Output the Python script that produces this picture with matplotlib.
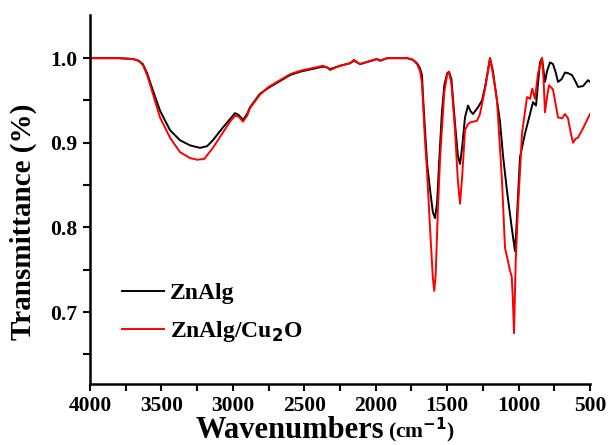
import matplotlib
matplotlib.use("Agg")
import matplotlib.pyplot as plt
from matplotlib.ticker import MultipleLocator, FixedLocator

plt.rcParams['font.family'] = ['Liberation Serif', 'DejaVu Serif']
plt.rcParams['font.weight'] = 'bold'

wn_black = [4000, 3800, 3700, 3660, 3630, 3600, 3560, 3510, 3440, 3370, 3300, 3230, 3180, 3140,
            3070, 3020, 2985, 2960, 2929, 2900, 2880, 2810, 2750, 2690, 2600, 2530, 2450, 2369,
            2340, 2320, 2250, 2180, 2152, 2110, 2050, 1991, 1970, 1920, 1780, 1739, 1711, 1690,
            1676, 1669, 1655, 1640, 1620, 1600, 1585, 1570, 1555, 1537, 1520, 1500, 1487, 1470,
            1445, 1425, 1410, 1395, 1375, 1354, 1335, 1319, 1284, 1256, 1230, 1200, 1180, 1151,
            1130, 1109, 1081, 1048, 1040, 1025, 1015, 1000, 990, 955, 920, 899, 878, 864, 850,
            836, 825, 815, 800, 780, 759, 740, 724, 700, 675, 650, 626, 600, 584, 549, 514, 500]
t_black = [1.000, 1.000, 0.999, 0.997, 0.993, 0.982, 0.962, 0.938, 0.915, 0.903, 0.897, 0.894,
           0.896, 0.903, 0.918, 0.928, 0.935, 0.933, 0.927, 0.934, 0.942, 0.958, 0.965, 0.971,
           0.980, 0.984, 0.987, 0.990, 0.989, 0.987, 0.991, 0.994, 0.997, 0.993, 0.996, 0.999,
           0.997, 1.000, 1.000, 0.998, 0.994, 0.988, 0.980, 0.955, 0.915, 0.875, 0.845, 0.818,
           0.811, 0.830, 0.880, 0.935, 0.968, 0.982, 0.984, 0.975, 0.923, 0.885, 0.875, 0.895,
           0.930, 0.944, 0.937, 0.934, 0.942, 0.950, 0.970, 1.000, 0.985, 0.950, 0.925, 0.885,
           0.843, 0.800, 0.790, 0.772, 0.800, 0.850, 0.883, 0.911, 0.934, 0.948, 0.944, 0.970,
           0.995, 1.000, 0.985, 0.972, 0.985, 0.995, 0.993, 0.983, 0.972, 0.975, 0.983, 0.982,
           0.980, 0.972, 0.966, 0.967, 0.974, 0.972]

wn_red = [4000, 3800, 3700, 3660, 3630, 3600, 3560, 3510, 3440, 3370, 3300, 3250, 3200, 3140,
          3070, 3020, 2985, 2960, 2929, 2900, 2880, 2810, 2750, 2690, 2600, 2530, 2450, 2369,
          2340, 2320, 2250, 2180, 2152, 2110, 2050, 1991, 1970, 1920, 1780, 1739, 1711, 1690,
          1676, 1665, 1655, 1640, 1620, 1600, 1590, 1580, 1565, 1550, 1537, 1520, 1500, 1487,
          1470, 1445, 1425, 1410, 1395, 1375, 1354, 1340, 1291, 1270, 1230, 1200, 1180, 1151,
          1116, 1095, 1060, 1048, 1040, 1032, 1020, 1004, 976, 941, 920, 904, 885, 864, 836,
          825, 815, 800, 787, 759, 740, 724, 696, 675, 654, 635, 619, 600, 584, 549, 500]
t_red = [1.000, 1.000, 0.999, 0.997, 0.992, 0.980, 0.958, 0.930, 0.906, 0.889, 0.882, 0.880,
         0.881, 0.894, 0.912, 0.925, 0.932, 0.931, 0.925, 0.932, 0.941, 0.957, 0.966, 0.972,
         0.981, 0.985, 0.988, 0.991, 0.989, 0.986, 0.991, 0.994, 0.998, 0.993, 0.996, 0.999,
         0.997, 1.000, 1.000, 0.998, 0.993, 0.985, 0.970, 0.935, 0.903, 0.864, 0.800, 0.740,
         0.725, 0.745, 0.820, 0.880, 0.915, 0.960, 0.980, 0.984, 0.970, 0.915, 0.855, 0.828,
         0.860, 0.915, 0.922, 0.924, 0.926, 0.934, 0.968, 1.000, 0.982, 0.950, 0.855, 0.776,
         0.749, 0.742, 0.715, 0.675, 0.760, 0.823, 0.911, 0.954, 0.952, 0.964, 0.952, 0.982,
         1.000, 0.975, 0.936, 0.955, 0.968, 0.963, 0.945, 0.930, 0.929, 0.934, 0.929, 0.912,
         0.900, 0.905, 0.906, 0.917, 0.934]

labels = ['ZnAlg', 'ZnAlg/Cu$_\\mathbf{2}$O']
ytick_vals = [0.7, 0.8, 0.9, 1.0]
ytick_labels = ['0.7', '0.8', '0.9', '1.0']

fig = plt.figure(figsize=(6.08, 4.45), dpi=100)
ax = fig.add_axes([90/608, 1-384/445, 500/608, 369/445])

ax.plot(wn_black, t_black, color='black', lw=1.4, label=labels[0])
ax.plot(wn_red, t_red, color='#ff0000', lw=1.4, label=labels[1])

ax.set_xlim(4000, 500)
ax.set_ylim(0.615, 1.051)
ax.xaxis.set_major_locator(MultipleLocator(500))
ax.xaxis.set_minor_locator(MultipleLocator(250))
ax.yaxis.set_major_locator(FixedLocator(ytick_vals))
ax.yaxis.set_minor_locator(FixedLocator([0.65, 0.75, 0.85, 0.95]))
ax.set_yticklabels(ytick_labels)

for s in ['top', 'right']:
    ax.spines[s].set_visible(False)
for s in ['left', 'bottom']:
    ax.spines[s].set_linewidth(1.8)
ax.tick_params(which='both', direction='out', width=1.5, length=5, labelsize=15.5)
ax.tick_params(axis='x', pad=3.5)
ax.tick_params(axis='y', pad=4)

ax.set_ylabel('Transmittance (%)', fontsize=21, fontweight='bold')
ax.yaxis.set_label_coords(-0.106, 0.44)

fig.text(384/608, 1-438/445, 'Wavenumbers', fontsize=22, fontweight='bold',
         ha='right', va='baseline')
fig.text(388/608, 1-438/445, '(cm$^{\\mathbf{-1}}$)', fontsize=15.5, fontweight='bold',
         ha='left', va='baseline')

leg = ax.legend(loc='lower left', bbox_to_anchor=(0.045, 0.082), frameon=False,
                handlelength=1.77, handletextpad=0.25, labelspacing=0.65,
                borderaxespad=0.0, prop={'weight': 'bold', 'size': 17})

fig.savefig('out.png', dpi=100)
